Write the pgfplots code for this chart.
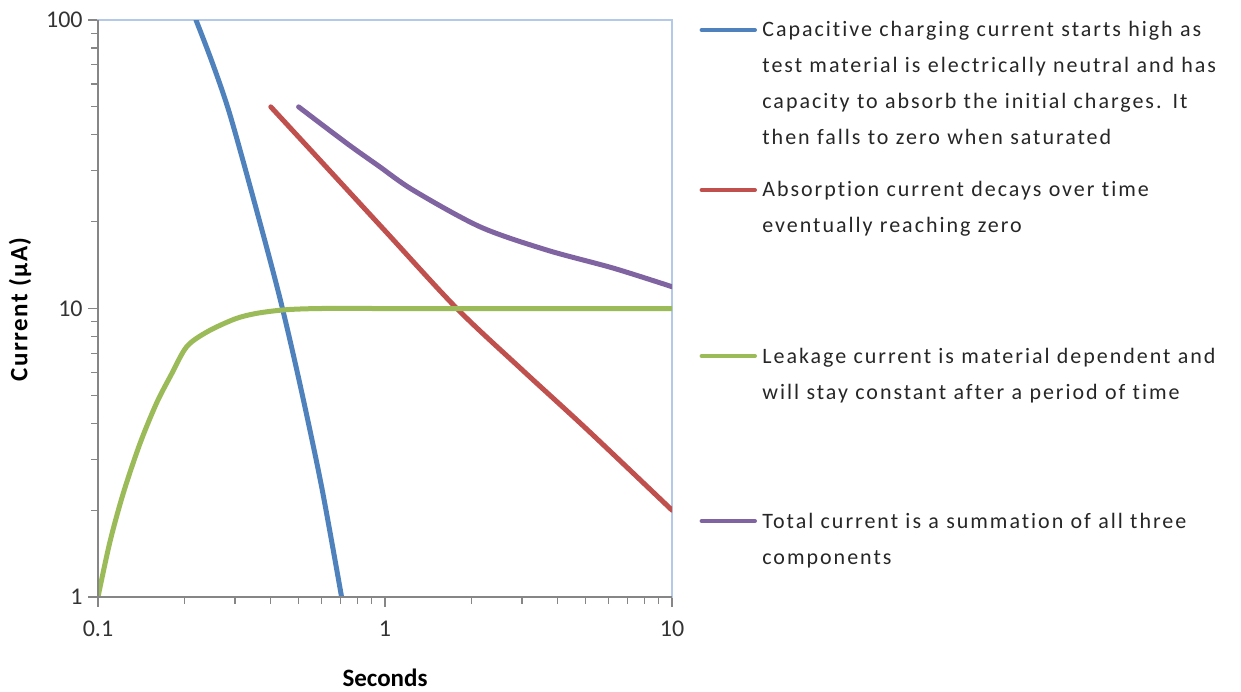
\documentclass[border=0pt]{standalone}
\usepackage{fontspec}
\setmainfont{Carlito}[RawFeature={-liga;-clig;-calt;-dlig}]
\usepackage{pgfplots}
\pgfplotsset{compat=1.18}
\definecolor{cblue}{HTML}{4F81BD}
\definecolor{cred}{HTML}{C0504D}
\definecolor{cgreen}{HTML}{9BBB59}
\definecolor{cpurple}{HTML}{8064A2}
\definecolor{axgray}{HTML}{868686}
\definecolor{boxblue}{HTML}{B4C9E8}
\begin{document}
\begin{tikzpicture}
\path[use as bounding box] (-49pt,-47pt) rectangle (571.5pt,298.5pt);
\begin{axis}[
  name=ax, at={(0,0)}, anchor=south west,
  scale only axis, width=287pt, height=288.5pt,
  xmode=log, ymode=log,
  xmin=0.1, xmax=10, ymin=1, ymax=100,
  log ticks with fixed point,
  /pgf/number format/assume math mode=true,
  xtick={0.1,1,10}, ytick={1,10,100},
  tick pos=left, tick align=outside,
  major tick length=5pt, minor tick length=3.5pt,
  every tick/.style={axgray, line width=0.6pt},
  axis line style={boxblue, line width=0.6pt},
  tick label style={font=\fontsize{12}{14}\selectfont, text=black!80},
  xticklabel style={anchor=north, inner sep=0pt, yshift=-7pt},
  yticklabel style={anchor=east, inner sep=0pt, xshift=-2.5pt},
  xlabel={\textbf{Seconds}},
  ylabel={\textbf{Current (µA)}},
  label style={font=\fontsize{12.5}{14}\selectfont, inner sep=0pt},
  xlabel style={at={(axis description cs:0.5,0)}, anchor=base, yshift=-44.5pt},
  ylabel style={at={([xshift=-39pt]axis description cs:0,0.5)}, anchor=center, rotate=0, font=\fontsize{12.5}{14}\selectfont\addfontfeature{LetterSpace=6}},
]
\addplot[cblue, line width=2.5pt, line cap=round, smooth] coordinates {(0.2195,100) (0.25,71.3) (0.2884,46.9) (0.357,21.9) (0.431,10.8) (0.5056,5.46) (0.6,2.44) (0.706,1)};
\addplot[cred, line width=2.5pt, line cap=round, smooth] coordinates {(0.4,50) (0.6,32.3) (1,18.6) (1.78,10) (3,6.14) (5,3.85) (10,2)};
\addplot[cgreen, line width=2.5pt, line cap=round, smooth] coordinates {(0.1,1) (0.11,1.55) (0.1225,2.29) (0.14,3.4) (0.16,4.7) (0.18,5.9) (0.2037,7.37) (0.24,8.3) (0.3,9.2) (0.357,9.62) (0.45,9.9) (0.6,10) (1,10) (10,10)};
\addplot[cpurple, line width=2.5pt, line cap=round, smooth] coordinates {(0.5,50) (0.7355,37.4) (0.95,31.2) (1.255,25.7) (2.143,19.2) (3.66,15.95) (6.25,13.8) (10,11.9)};
\end{axis}
\draw[axgray, line width=0.6pt] (ax.north west) -- (ax.south west) -- (ax.south east);
\begin{scope}[line width=2pt, line cap=round]
\draw[cblue] (301.8pt,283.5pt) -- (328.5pt,283.5pt);
\draw[cred] (301.8pt,203.5pt) -- (328.5pt,203.5pt);
\draw[cgreen] (301.8pt,120.5pt) -- (328.5pt,120.5pt);
\draw[cpurple] (301.8pt,38pt) -- (328.5pt,38pt);
\end{scope}
\begin{scope}[every node/.style={anchor=base west, inner sep=0pt, text width=270pt, align=left, text=black!85, font=\fontsize{11}{18}\selectfont\addfontfeature{LetterSpace=9}}]
\node at (332pt,280pt) {Capacitive charging current starts high as\\test material is electrically neutral and has\\capacity to absorb the initial charges. It\\then falls to zero when saturated};
\node at (332pt,200pt) {Absorption current decays over time\\eventually reaching zero};
\node at (332pt,117pt) {Leakage current is material dependent and\\will stay constant after a period of time};
\node at (332pt,34.5pt) {Total current is a summation of all three\\components};
\end{scope}
\end{tikzpicture}
\end{document}
